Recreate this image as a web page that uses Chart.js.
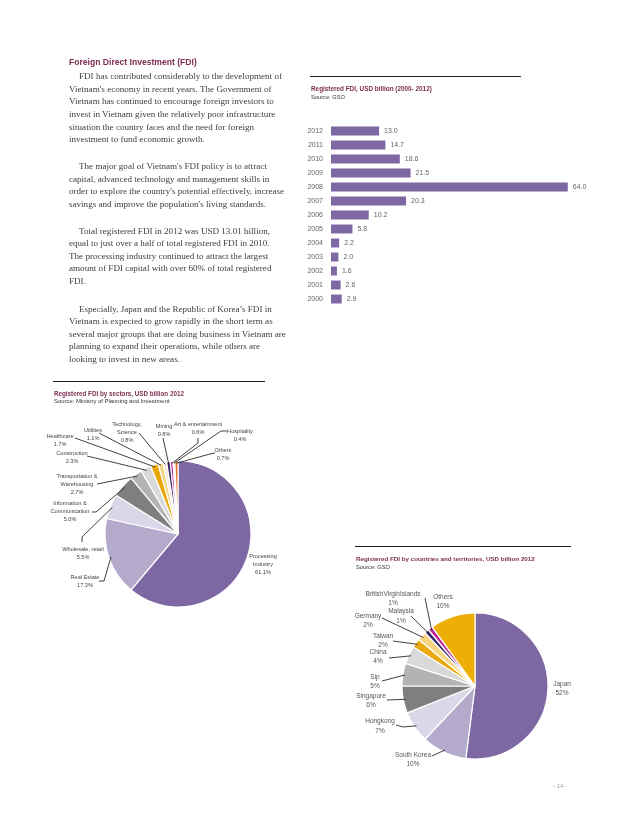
<!DOCTYPE html>
<html>
<head>
<meta charset="utf-8">
<script src="https://cdn.jsdelivr.net/npm/chart.js@4.4.0/dist/chart.umd.min.js"></script>
<style>
  html, body { margin: 0; padding: 0; background: #fff; }
  #page { position: relative; width: 638px; height: 826px; overflow: hidden; }
  canvas.layer { position: absolute; left: 0; top: 0; }
  .t { position: absolute; white-space: nowrap; line-height: 1; }
  .rule { position: absolute; height: 1px; background: #222; }
</style>
</head>
<body>
<div id="page">
  <canvas id="barChart" class="layer" width="638" height="826"></canvas>
  <canvas id="sectorChart" class="layer" width="638" height="826"></canvas>
  <canvas id="countryChart" class="layer" width="638" height="826"></canvas>
</div>
<script>
// ---- data ----
const years = ['2012', '2011', '2010', '2009', '2008', '2007', '2006', '2005', '2004', '2003', '2002', '2001', '2000']
const fdiValues = [13.0, 14.7, 18.6, 21.5, 64.0, 20.3, 10.2, 5.8, 2.2, 2.0, 1.6, 2.6, 2.9]

const sectorNames = [
    ['Processing', 'Industry'], ['Real Estate'], ['Wholesale, retail'], ['Information &', 'Communication'],
    ['Transportation &', 'Warehousing'], ['Construction'], ['Healthcare'], ['Utilities'],
    ['Technology,', 'Science'], ['Mining'], ['Art & entertainment'], ['Hospitality'], ['Others']
]
const sectorShares = [61.1, 17.3, 5.5, 5.0, 2.7, 2.3, 1.7, 1.1, 0.8, 0.8, 0.6, 0.4, 0.7]

const countryNames = ['Japan', 'South Korea', 'Hongkong', 'Singapore', 'Sip', 'China', 'Taiwan', 'Germany', 'Malaysia', 'BritishVirginIslands', 'Others']
const countryShares = [52, 10, 7, 6, 5, 4, 2, 2, 1, 1, 10]

const paragraphs = [
    ["FDI has contributed considerably to the development of",
     "Vietnam's economy in recent years. The Government of",
     "Vietnam has continued to encourage foreign investors to",
     "invest in Vietnam given the relatively poor infrastructure",
     "situation the country faces and the need for foreign",
     "investment to fund economic growth."],
    ["The major goal of Vietnam's FDI policy is to attract",
     "capital, advanced technology and management skills in",
     "order to explore the country's potential effectively, increase",
     "savings and improve the population's living standards."],
    ["Total registered FDI in 2012 was USD 13.01 billion,",
     "equal to just over a half of total registered FDI in 2010.",
     "The processing industry continued to attract the largest",
     "amount of FDI capital with over 60% of total registered",
     "FDI."],
    ["Especially, Japan and the Republic of Korea\u2019s FDI in",
     "Vietnam is expected to grow rapidly in the short term as",
     "several major groups that are doing business in Vietnam are",
     "planning to expand their operations, while others are",
     "looking to invest in new areas."]
]

// ---- colours / layout ----
const purple = '#7d68a4'
const sectorColors = ['#7d68a4', '#b4aacb', '#dcd7e8', '#7f7f7f', '#b3b3b3', '#d9d9d9', '#e9a90e', '#f6d683', '#f3ead8', '#3b2a6e', '#c0249c', '#f8cfa8', '#e07424']
const countryColors = ['#7d68a4', '#b4aacb', '#dcd7e8', '#7f7f7f', '#b3b3b3', '#d9d9d9', '#e9a90e', '#f6d683', '#3b2a6e', '#c0249c', '#eeae08']

const sectorLayout = [
    { x: 263, y: 556 },
    { x: 85, y: 577, path: [[99, 581], [104, 581]] },
    { x: 83, y: 549, path: [[82, 542], [82, 537]] },
    { x: 70, y: 503.5, path: [[92, 512], [96, 512]] },
    { x: 77, y: 476, path: [[97, 484]] },
    { x: 72, y: 453, path: [[87, 456]] },
    { x: 60, y: 436, path: [[75, 438]] },
    { x: 93, y: 430, path: [[99, 433]] },
    { x: 127, y: 424.5, path: [[139, 433]] },
    { x: 164, y: 426, path: [[163, 438]] },
    { x: 198, y: 424.5, path: [[198, 438], [198, 443]] },
    { x: 240, y: 431, path: [[227, 431], [221, 431]] },
    { x: 223, y: 450.5, path: [[215, 453], [210, 454]] }
]
const countryLayout = [
    { x: 562, y: 684 },
    { x: 413, y: 755, path: [[432, 756]] },
    { x: 380, y: 721.5, path: [[396, 725], [403, 727]] },
    { x: 371, y: 696, path: [[387, 700]] },
    { x: 375, y: 677, path: [[382, 681]] },
    { x: 378, y: 652, path: [[389, 658]] },
    { x: 383, y: 636, path: [[393, 641]] },
    { x: 368, y: 616, path: [[382, 618]] },
    { x: 401, y: 611.5, path: [[411, 616]] },
    { x: 393, y: 594, path: [[425, 598]] },
    { x: 443, y: 597 }
]

// ---- text helpers ----
const page = document.getElementById('page')
const meas = document.createElement('canvas').getContext('2d')

function widthAt(str, size, family, weight) {
    meas.font = `${weight} ${size}px ${family}`
    return meas.measureText(str).width
}

function place(str, x, y, size, family, weight, color) {
    const el = document.createElement('div')
    el.className = 't'
    el.textContent = str
    el.style.left = x + 'px'
    el.style.top = (y - size * 0.6) + 'px'
    el.style.fontSize = size + 'px'
    el.style.fontFamily = family
    el.style.fontWeight = weight
    el.style.color = color
    page.appendChild(el)
}

function fitSize(str, width, family, weight) {
    return 10 * width / widthAt(str, 10, family, weight)
}

function rule(x1, x2, y) {
    const el = document.createElement('div')
    el.className = 'rule'
    el.style.left = x1 + 'px'
    el.style.width = (x2 - x1) + 'px'
    el.style.top = y + 'px'
    page.appendChild(el)
}

const serif = '"Liberation Serif", "DejaVu Serif", serif'
const narrow = '"Liberation Sans Narrow", "Liberation Sans", Arial, sans-serif'
const sans = '"Liberation Sans", Arial, sans-serif'
const maroon = '#7d2d52'

// heading + body text
const headSize = fitSize('Foreign Direct Investment (FDI)', 128, narrow, 'bold')
place('Foreign Direct Investment (FDI)', 69, 63.5, headSize, narrow, 'bold', maroon)

const bodySize = fitSize(paragraphs[0][1], 203, serif, 'normal')
const paraTop = [77.5, 167.5, 232, 310]
paragraphs.forEach((lines, p) => {
    lines.forEach((s, i) => place(s, i === 0 ? 79 : 69, paraTop[p] + i * 12.65, bodySize, serif, 'normal', '#3d3d3d'))
})

// chart titles
function chartTitle(x, x2, y, title, titleWidth, source, sourceWidth) {
    rule(x, x2, y)
    const ts = fitSize(title, titleWidth, narrow, 'bold')
    place(title, x + 1, y + 14, ts, narrow, 'bold', maroon)
    const ss = fitSize(source, sourceWidth, narrow, 'normal')
    place(source, x + 1, y + 22, ss, narrow, 'normal', '#333')
}
chartTitle(310, 521, 76, 'Registered FDI, USD billion (2000- 2012)', 121, 'Source: GSO', 34)
chartTitle(53, 265, 381, 'Registered FDI by sectors, USD billion 2012', 130, 'Source: Ministry of Planning and Investment', 116)
chartTitle(355, 571, 546, 'Registered FDI by countries and territories, USD billion 2012', 179, 'Source: GSO', 34)

place('- 14 -', 553, 787, 6, sans, 'normal', '#999')

// ---- charts ----
const barValueLabels = {
    id: 'barValueLabels',
    afterDatasetsDraw(chart) {
        const ctx = chart.ctx
        ctx.save()
        ctx.font = '7px ' + sans
        ctx.fillStyle = '#666'
        ctx.textBaseline = 'middle'
        chart.getDatasetMeta(0).data.forEach((bar, i) => ctx.fillText(fdiValues[i].toFixed(1), bar.x + 5, bar.y))
        ctx.restore()
    }
}

new Chart(document.getElementById('barChart'), {
    type: 'bar',
    data: {
        labels: years,
        datasets: [{ data: fdiValues, backgroundColor: purple, barPercentage: 0.64, categoryPercentage: 1 }]
    },
    options: {
        indexAxis: 'y',
        responsive: false,
        animation: false,
        layout: { padding: { left: 300, top: 124, right: 48, bottom: 520 } },
        plugins: { legend: { display: false }, tooltip: { enabled: false } },
        scales: {
            x: { display: false, min: 0, max: 70 },
            y: {
                grid: { display: false, drawTicks: false },
                border: { display: false },
                ticks: { color: '#666', font: { size: 7, family: sans }, padding: 8, autoSkip: false },
                afterFit: s => { s.width = 31 }
            }
        }
    },
    plugins: [barValueLabels]
})

const pieLabels = {
    id: 'pieLabels',
    afterDatasetsDraw(chart, args, opts) {
        const ctx = chart.ctx
        const arcs = chart.getDatasetMeta(0).data
        ctx.save()
        ctx.font = opts.font
        ctx.fillStyle = opts.color
        ctx.textAlign = 'center'
        ctx.textBaseline = 'middle'
        ctx.strokeStyle = '#111'
        ctx.lineWidth = 0.8
        opts.items.forEach((it, i) => {
            const arc = arcs[i]
            if (it.path) {
                const mid = (arc.startAngle + arc.endAngle) / 2
                const r = arc.outerRadius * 0.97
                ctx.beginPath()
                ctx.moveTo(it.path[0][0], it.path[0][1])
                it.path.slice(1).forEach(p => ctx.lineTo(p[0], p[1]))
                ctx.lineTo(arc.x + Math.cos(mid) * r, arc.y + Math.sin(mid) * r)
                ctx.stroke()
            }
            opts.texts[i].forEach((s, k) => ctx.fillText(s, it.x, it.y + k * opts.gap))
        })
        ctx.restore()
    }
}

function pieChart(id, names, values, colors, cx, cy, r, labelOpts) {
    const half = r + 0.6
    return new Chart(document.getElementById(id), {
        type: 'pie',
        data: {
            labels: names.map(n => [].concat(n).join(' ')),
            datasets: [{ data: values, backgroundColor: colors, borderColor: '#fff', borderWidth: 1.2 }]
        },
        options: {
            responsive: false,
            animation: false,
            layout: { padding: { left: cx - half, top: cy - half, right: 638 - cx - half, bottom: 826 - cy - half } },
            plugins: { legend: { display: false }, tooltip: { enabled: false }, pieLabels: labelOpts }
        },
        plugins: [pieLabels]
    })
}

pieChart('sectorChart', sectorNames, sectorShares, sectorColors, 178, 534, 73, {
    items: sectorLayout,
    texts: sectorNames.map((n, i) => n.concat(sectorShares[i].toFixed(1) + '%')),
    font: '5.6px ' + sans,
    color: '#444',
    gap: 8
})

pieChart('countryChart', countryNames, countryShares, countryColors, 475, 686, 73, {
    items: countryLayout,
    texts: countryNames.map((n, i) => [n, countryShares[i] + '%']),
    font: '6.5px ' + sans,
    color: '#555',
    gap: 9.5
})
</script>
</body>
</html>
